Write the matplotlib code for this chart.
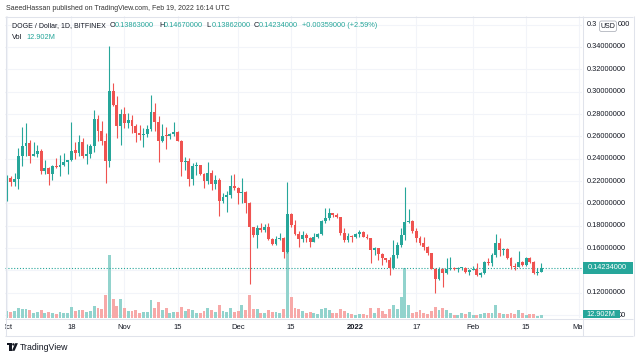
import matplotlib
matplotlib.use("Agg")
import matplotlib.pyplot as plt
import matplotlib.dates as mdates
import matplotlib.transforms as mtrans
from matplotlib.patches import Rectangle, FancyBboxPatch, Circle, Polygon
import pandas as pd

# ---------------- data ----------------
start_date = "2021-10-01"
opens = [0.2031,0.2225,0.2188,0.2218,0.2422,0.2518,0.2542,0.2428,0.2443,0.2473,
         0.2289,0.2313,0.2259,0.2333,0.2326,0.2342,0.2372,0.2387,0.2478,0.2452,
         0.2551,0.2422,0.2446,0.2512,0.2758,0.2645,0.2555,0.2376,0.3003,0.2884,
         0.2690,0.2800,0.2719,0.2743,0.2690,0.2630,0.2609,0.2621,0.2666,0.2818,
         0.2731,0.2555,0.2606,0.2600,0.2621,0.2636,0.2561,0.2367,0.2382,0.2218,
         0.2337,0.2340,0.2263,0.2197,0.2272,0.2173,0.2212,0.2024,0.2054,0.2078,
         0.2152,0.2137,0.2091,0.2100,0.2001,0.1787,0.1718,0.1777,0.1765,0.1792,
         0.1682,0.1634,0.1682,0.1694,0.1562,0.1906,0.1807,0.1727,0.1680,0.1718,
         0.1694,0.1658,0.1703,0.1730,0.1846,0.1867,0.1912,0.1897,0.1876,0.1736,
         0.1673,0.1709,0.1700,0.1727,0.1748,0.1703,0.1688,0.1583,0.1599,0.1548,
         0.1509,0.1494,0.1419,0.1539,0.1628,0.1718,0.1837,0.1846,0.1753,0.1694,
         0.1643,0.1613,0.1554,0.1416,0.1324,0.1410,0.1375,0.1410,0.1422,0.1410,
         0.1419,0.1426,0.1385,0.1405,0.1413,0.1360,0.1378,0.1479,0.1464,0.1539,
         0.1649,0.1584,0.1596,0.1509,0.1443,0.1435,0.1479,0.1449,0.1515,0.1479,
         0.1375,0.13863]
highs = [0.2255,0.2248,0.2272,0.2497,0.2685,0.2720,0.2572,0.2548,0.2527,0.2488,
         0.2393,0.2324,0.2348,0.2405,0.2437,0.2452,0.2393,0.2726,0.2549,0.2616,
         0.2586,0.2534,0.2533,0.2833,0.2794,0.2734,0.2630,0.3406,0.3078,0.2958,
         0.2845,0.2863,0.2809,0.2794,0.2713,0.2704,0.2675,0.2698,0.2973,0.2899,
         0.2779,0.2713,0.2684,0.2630,0.2725,0.2645,0.2570,0.2412,0.2406,0.2361,
         0.2367,0.2343,0.2272,0.2370,0.2301,0.2257,0.2227,0.2093,0.2108,0.2257,
         0.2266,0.2145,0.2230,0.2110,0.2010,0.1792,0.1807,0.1822,0.1816,0.1828,
         0.1688,0.1709,0.1739,0.1697,0.2195,0.1912,0.1852,0.1757,0.1757,0.1733,
         0.1703,0.1733,0.1739,0.1852,0.1957,0.1957,0.1918,0.1912,0.1882,0.1777,
         0.1733,0.1718,0.1739,0.1762,0.1752,0.1727,0.1690,0.1613,0.1602,0.1554,
         0.1515,0.1524,0.1673,0.1658,0.1777,0.2150,0.1948,0.1852,0.1777,0.1712,
         0.1703,0.1622,0.1557,0.1422,0.1434,0.1425,0.1509,0.1518,0.1434,0.1434,
         0.1435,0.1435,0.1415,0.1440,0.1464,0.1390,0.1488,0.1509,0.1554,0.1727,
         0.1688,0.1602,0.1602,0.1524,0.1464,0.1578,0.1488,0.1524,0.1524,0.1485,
         0.1420,0.14670]
lows = [0.2025,0.2152,0.2152,0.2128,0.2333,0.2428,0.2363,0.2425,0.2413,0.2259,
        0.2260,0.2164,0.2214,0.2320,0.2244,0.2333,0.2259,0.2378,0.2400,0.2425,
        0.2408,0.2354,0.2408,0.2457,0.2555,0.2526,0.2182,0.2322,0.2869,0.2585,
        0.2525,0.2675,0.2675,0.2630,0.2546,0.2570,0.2504,0.2594,0.2645,0.2645,
        0.2367,0.2546,0.2490,0.2576,0.2606,0.2555,0.2242,0.2301,0.2158,0.2167,
        0.2257,0.2257,0.2137,0.2176,0.2122,0.2131,0.1884,0.2003,0.1920,0.2048,
        0.2122,0.1995,0.2001,0.1912,0.1279,0.1703,0.1599,0.1748,0.1748,0.1673,
        0.1628,0.1628,0.1673,0.1509,0.1554,0.1792,0.1718,0.1613,0.1658,0.1658,
        0.1613,0.1655,0.1688,0.1718,0.1822,0.1852,0.1882,0.1867,0.1718,0.1658,
        0.1658,0.1658,0.1688,0.1703,0.1697,0.1682,0.1470,0.1539,0.1494,0.1450,
        0.1480,0.1360,0.1415,0.1509,0.1613,0.1673,0.1822,0.1733,0.1658,0.1628,
        0.1583,0.1539,0.1410,0.1196,0.1315,0.1255,0.1370,0.1404,0.1404,0.1390,
        0.1400,0.1375,0.1360,0.1400,0.1348,0.1345,0.1369,0.1449,0.1443,0.1524,
        0.1533,0.1539,0.1500,0.1411,0.1405,0.1429,0.1443,0.1443,0.1470,0.1369,
        0.1360,0.13862]
closes = [0.2225,0.2188,0.2218,0.2422,0.2518,0.2542,0.2428,0.2443,0.2473,0.2289,
          0.2313,0.2259,0.2333,0.2326,0.2342,0.2372,0.2387,0.2473,0.2452,0.2551,
          0.2422,0.2446,0.2512,0.2758,0.2645,0.2555,0.2376,0.3003,0.2884,0.2690,
          0.2800,0.2719,0.2743,0.2690,0.2630,0.2609,0.2621,0.2666,0.2818,0.2731,
          0.2555,0.2606,0.2600,0.2621,0.2636,0.2561,0.2367,0.2382,0.2218,0.2337,
          0.2340,0.2263,0.2197,0.2272,0.2173,0.2212,0.2024,0.2054,0.2078,0.2152,
          0.2137,0.2091,0.2100,0.2001,0.1787,0.1718,0.1777,0.1765,0.1792,0.1682,
          0.1634,0.1682,0.1694,0.1562,0.1906,0.1807,0.1727,0.1682,0.1718,0.1694,
          0.1658,0.1703,0.1730,0.1846,0.1867,0.1912,0.1897,0.1876,0.1736,0.1673,
          0.1709,0.1700,0.1727,0.1748,0.1703,0.1688,0.1583,0.1599,0.1548,0.1509,
          0.1494,0.1419,0.1539,0.1628,0.1718,0.1837,0.1846,0.1753,0.1694,0.1643,
          0.1613,0.1554,0.1416,0.1324,0.1410,0.1375,0.1410,0.1422,0.1410,0.1419,
          0.1426,0.1385,0.1405,0.1413,0.1360,0.1378,0.1479,0.1464,0.1539,0.1649,
          0.1584,0.1596,0.1509,0.1443,0.1435,0.1479,0.1449,0.1515,0.1479,0.1375,
          0.1386,0.14234]
volumes_m = [30,26,30,43,39,39,34,22,26,34, 22,26,22,17,26,22,22,47,30,34,
             34,26,30,52,43,39,99,271,82,52, 82,43,30,30,34,22,26,26,77,43,
             69,34,43,22,26,26,47,30,39,34, 22,22,30,43,34,26,56,30,26,43,
             26,30,56,34,99,39,39,22,22,34, 26,26,22,39,284,90,43,39,30,22,
             26,22,17,39,43,34,22,22,39,30, 22,17,13,17,17,13,43,22,43,30,
             17,39,56,39,90,215,56,22,26,34, 22,17,30,47,34,43,34,22,13,13,
             22,17,26,13,13,17,22,22,22,56, 22,17,17,22,17,34,22,13,17,17,
             9,12.902]

tick_dates = ["2021-10-01", "2021-10-18", "2021-11-01", "2021-11-15", "2021-12-01",
              "2021-12-15", "2022-01-01", "2022-01-17", "2022-02-01", "2022-02-15",
              "2022-03-01"]
tick_labels = ["Oct", "18", "Nov", "15", "Dec", "15", "2022", "17", "Feb", "15", "Mar"]
price_ticks = [0.10, 0.12, 0.14, 0.16, 0.18, 0.20, 0.22, 0.24, 0.26, 0.28, 0.30,
               0.32, 0.34, 0.36]
# labels partly or fully covered by tags in the reference: visible pieces only
partial_price_labels = {0.36: [("0.3", "left", 587), ("000", "left", 617.3)],
                        0.10: [("00", "right", 626.5)],
                        0.14: []}
last_price = 0.14234
last_volume_label = "12.902M"
publisher_text = "SaeedHassan published on TradingView.com, Feb 19, 2022 16:14 UTC"
symbol_text = "DOGE / Dollar, 1D, BITFINEX"
ohlc_parts = [("O", "0.13863000"), ("H", "0.14670000"), ("L", "0.13862000"), ("C", "0.14234000")]
change_text = "+0.00359000 (+2.59%)"

# ---------------- style ----------------
UP = "#26a69a"
DN = "#ef5350"
UP_V = "#92d3cd"
DN_V = "#f7a9a8"
GRID = "#f2f4f9"
FRAME = "#e0e3eb"
TXT = "#131722"
FONT = "Liberation Sans"
FS = 5.3

W, H = 640, 358
fig = plt.figure(figsize=(6.4, 3.58), dpi=100)
fig.patch.set_facecolor("white")


def px_rect(x0, y0, x1, y1):
    return [x0 / W, 1 - y1 / H, (x1 - x0) / W, (y1 - y0) / H]


PLOT = (5, 16, 582, 318)
dates = pd.date_range(start_date, periods=len(opens), freq="D")
xs = mdates.date2num(dates.to_pydatetime())
x_start = mdates.date2num(pd.Timestamp(start_date).to_pydatetime())
XLIM = (x_start - 0.53, x_start + 151.75)
YLIM = (0.0975, 0.3677)
tick_x = [mdates.date2num(pd.Timestamp(d).to_pydatetime()) for d in tick_dates]

# grid axes (bottom)
axg = fig.add_axes(px_rect(*PLOT))
axg.set_xlim(*XLIM)
axg.set_ylim(*YLIM)
axg.set_xticks(tick_x)
axg.set_yticks(price_ticks)
axg.grid(True, color=GRID, lw=0.75)
axg.tick_params(length=0, labelleft=False, labelbottom=False)
for s in axg.spines.values():
    s.set_visible(False)

# volume axes
axv = fig.add_axes(px_rect(*PLOT))
axv.patch.set_visible(False)
axv.set_xlim(*XLIM)
axv.set_ylim(0, 302 * 4.3)
vcols = [UP_V if c >= o else DN_V for o, c in zip(opens, closes)]
axv.bar(xs, volumes_m, width=0.76, color=vcols, linewidth=0)
axv.axis("off")

# candle axes
ax = fig.add_axes(px_rect(*PLOT))
ax.patch.set_visible(False)
ax.set_xlim(*XLIM)
ax.set_ylim(*YLIM)
ax.axis("off")
ax.axhline(last_price, color=UP, lw=0.8, linestyle=(0, (1, 1.6)), zorder=1)
ccols = [UP if c >= o else DN for o, c in zip(opens, closes)]
ax.vlines(xs, lows, highs, colors=ccols, lw=0.8, zorder=2)
bottoms = [min(o, c) for o, c in zip(opens, closes)]
heights = [max(abs(c - o), 0.0008) for o, c in zip(opens, closes)]
ax.bar(xs, heights, bottom=bottoms, width=0.76, color=ccols, linewidth=0, zorder=3)

# time axis labels (clipped to the time-scale strip)
tax = fig.add_axes(px_rect(5, 318, 582, 335))
tax.set_xlim(*XLIM)
tax.set_ylim(0, 1)
tax.axis("off")
for tx, lab in zip(tick_x, tick_labels):
    tax.text(tx, 0.47, lab, ha="center", va="center", fontsize=FS + 0.2,
             color=TXT, family=FONT, clip_on=True,
             fontweight="bold" if lab == "2022" else "normal")

# overlay axes in pixel coordinates
ov = fig.add_axes([0, 0, 1, 1])
ov.set_xlim(0, W)
ov.set_ylim(H, 0)
ov.axis("off")
ov.patch.set_visible(False)

lw1 = 0.75
for (xa, ya, xb, yb) in [(5, 16.5, 633, 16.5), (5, 335.5, 633, 335.5), (5.5, 16, 5.5, 336),
                         (633.5, 16, 633.5, 336), (582.5, 16, 582.5, 336),
                         (5, 318.5, 633, 318.5)]:
    ov.plot([xa, xb], [ya, yb], color=FRAME, lw=lw1, solid_capstyle="butt")

blend = mtrans.blended_transform_factory(ov.transData, ax.transData)
for p in price_ticks:
    if p in partial_price_labels:
        for piece, align, px in partial_price_labels[p]:
            ov.text(px, p, piece, transform=blend, ha=align, va="center",
                    fontsize=FS, color=TXT, family=FONT)
        continue
    ov.text(587, p, f"{p:.8f}", transform=blend, ha="left", va="center",
            fontsize=FS, color=TXT, family=FONT)


def price_to_py(p):
    disp = ax.transData.transform((x_start, p))
    return ov.transData.inverted().transform(disp)[1]


py = price_to_py(last_price)
ov.add_patch(Rectangle((582.5, py - 5.7), 50, 11.4, facecolor=UP, edgecolor="none", zorder=5))
ov.text(607.5, py, f"{last_price:.8f}", ha="center", va="center", fontsize=FS,
        color="white", family=FONT, zorder=6)

# volume label box at bottom
ov.add_patch(Rectangle((582.5, 310), 37.5, 8.2, facecolor=UP, edgecolor="none", zorder=5))
ov.text(601.2, 314.3, last_volume_label, ha="center", va="center", fontsize=FS,
        color="white", family=FONT, zorder=6)

# USD badge
ov.add_patch(FancyBboxPatch((599.5, 21), 17, 10.5, boxstyle="round,pad=0,rounding_size=2",
                            facecolor="white", edgecolor="#b2b5be", lw=0.6, zorder=5))
ov.text(608, 26.4, "USD", ha="center", va="center", fontsize=FS - 0.3, color=TXT,
        family=FONT, zorder=6)

# publisher line
ov.text(6.5, 8.5, publisher_text, ha="left", va="center", fontsize=5.0,
        color="#333333", family=FONT)

# header line
ov.text(12, 25.5, symbol_text, ha="left", va="center", fontsize=5.0, color=TXT, family=FONT)
label_x = [110, 159.5, 206.8, 253.8]
for (lab, val), lx in zip(ohlc_parts, label_x):
    ov.text(lx, 25.5, lab, ha="left", va="center", fontsize=FS, color=TXT, family=FONT)
    ov.text(lx + 4.5, 25.5, val, ha="left", va="center", fontsize=FS, color=UP, family=FONT)
ov.text(302.5, 25.5, change_text, ha="left", va="center", fontsize=FS, color=UP, family=FONT)
ov.text(12, 37.5, "Vol", ha="left", va="center", fontsize=FS, color=TXT, family=FONT)
ov.text(26.7, 37.5, last_volume_label, ha="left", va="center", fontsize=FS, color=UP, family=FONT)

# TradingView logo
LOGO = "#131722"
ov.add_patch(Rectangle((6.5, 343.2), 5.2, 2.2, facecolor=LOGO, edgecolor="none"))
ov.add_patch(Rectangle((9.3, 343.2), 2.4, 7.6, facecolor=LOGO, edgecolor="none"))
ov.add_patch(Circle((13.4, 344.4), 1.2, facecolor=LOGO, edgecolor="none"))
ov.add_patch(Polygon([(15.2, 343.2), (17.9, 343.2), (14.6, 350.8), (11.9, 350.8)],
                     closed=True, facecolor=LOGO, edgecolor="none"))
ov.text(19.5, 347.2, "TradingView", ha="left", va="center", fontsize=FS + 1.0,
        color=TXT, family=FONT)

fig.savefig("out.png", dpi=100, facecolor="white")
